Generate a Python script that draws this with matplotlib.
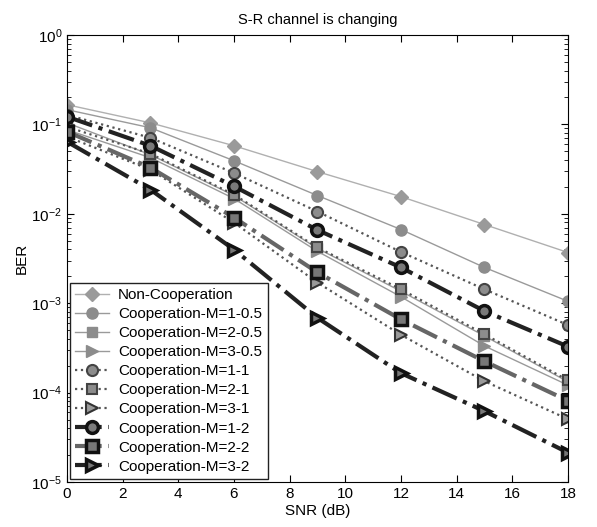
import matplotlib
matplotlib.use("Agg")
import matplotlib.pyplot as plt
from matplotlib.ticker import LogLocator, FixedLocator

plt.rcParams['font.family'] = ['Liberation Sans', 'DejaVu Sans']

snr = [0, 3, 6, 9, 12, 15, 18]

labels = ["Non-Cooperation", "Cooperation-M=1-0.5", "Cooperation-M=2-0.5",
          "Cooperation-M=3-0.5", "Cooperation-M=1-1", "Cooperation-M=2-1",
          "Cooperation-M=3-1", "Cooperation-M=1-2", "Cooperation-M=2-2",
          "Cooperation-M=3-2"]

ber_noncoop = [0.166, 0.104, 0.0577, 0.0296, 0.01556, 0.00758, 0.00369]
ber_m1_05 = [0.146, 0.0917, 0.0392, 0.016, 0.00667, 0.00251, 0.00105]
ber_m2_05 = [0.104, 0.0458, 0.016, 0.0041, 0.00136, 0.00043, 0.000132]
ber_m3_05 = [0.087, 0.0424, 0.0148, 0.0038, 0.00118, 0.000332, 0.000121]
ber_m1_1 = [0.128, 0.0708, 0.0286, 0.0106, 0.00374, 0.00143, 0.00057]
ber_m2_1 = [0.094, 0.047, 0.0164, 0.0042, 0.00143, 0.000449, 0.000137]
ber_m3_1 = [0.073, 0.0311, 0.00797, 0.0017, 0.000443, 0.000134, 5.05e-05]
ber_m1_2 = [0.122, 0.0577, 0.0203, 0.00658, 0.00251, 0.000816, 0.000327]
ber_m2_2 = [0.083, 0.0328, 0.00908, 0.00221, 0.00066, 0.000224, 8.1e-05]
ber_m3_2 = [0.064, 0.0186, 0.00398, 0.000685, 0.000165, 6.2e-05, 2.13e-05]

series = [ber_noncoop, ber_m1_05, ber_m2_05, ber_m3_05, ber_m1_1, ber_m2_1,
          ber_m3_1, ber_m1_2, ber_m2_2, ber_m3_2]

styles = [
    dict(ls='-', lw=1.0, color='#b0b0b0', marker='D', ms=7, mfc='#9a9a9a', mec='#9a9a9a', mew=1.0),
    dict(ls='-', lw=1.0, color='#9a9a9a', marker='o', ms=8, mfc='#8c8c8c', mec='#8c8c8c', mew=1.0),
    dict(ls='-', lw=1.0, color='#9a9a9a', marker='s', ms=7, mfc='#8c8c8c', mec='#8c8c8c', mew=1.0),
    dict(ls='-', lw=1.0, color='#9a9a9a', marker='>', ms=8, mfc='#8c8c8c', mec='#8c8c8c', mew=1.0),
    dict(ls=':', lw=1.6, color='#555555', marker='o', ms=8, mfc='#8c8c8c', mec='#444444', mew=1.5),
    dict(ls=':', lw=1.6, color='#555555', marker='s', ms=7, mfc='#8c8c8c', mec='#444444', mew=1.5),
    dict(ls=':', lw=1.6, color='#555555', marker='>', ms=8, mfc='#9a9a9a', mec='#333333', mew=1.5),
    dict(ls='-.', lw=3.0, color='#222222', marker='o', ms=8.5, mfc='#7a7a7a', mec='#111111', mew=2.5),
    dict(ls='-.', lw=3.0, color='#666666', marker='s', ms=8, mfc='#777777', mec='#111111', mew=2.5),
    dict(ls='-.', lw=3.0, color='#222222', marker='>', ms=9, mfc='#777777', mec='#111111', mew=2.5),
]

fig = plt.figure(figsize=(5.97, 5.27), dpi=100)
ax = fig.add_axes([0.1122, 0.0854, 0.8392, 0.8482])

for y, lab, st in zip(series, labels, styles):
    ax.plot(snr, y, label=lab, **st)

ax.set_yscale('log')
ax.set_xlim(0, 18)
ax.set_ylim(1e-5, 1)
ax.xaxis.set_major_locator(FixedLocator(list(range(0, 19, 2))))
ax.yaxis.set_major_locator(LogLocator(base=10, numticks=10))
ax.yaxis.set_minor_locator(LogLocator(base=10, subs=range(2, 10), numticks=20))
ax.tick_params(which='both', direction='in', top=True, right=True, labelsize=11)
ax.tick_params(which='major', length=5)
ax.tick_params(which='minor', length=3)

ax.set_title("S-R channel is changing", fontsize=10.5, pad=8)
ax.set_xlabel("SNR (dB)", fontsize=11, labelpad=2)
ax.set_ylabel("BER", fontsize=11, labelpad=2)

leg = ax.legend(loc='lower left', borderaxespad=0.2, fontsize=11, frameon=True,
                fancybox=False, edgecolor='#222222', framealpha=1.0,
                handlelength=2.2, labelspacing=0.33, handletextpad=0.6,
                borderpad=0.35)
leg.get_frame().set_linewidth(1.0)

fig.savefig("out.png", dpi=100)
